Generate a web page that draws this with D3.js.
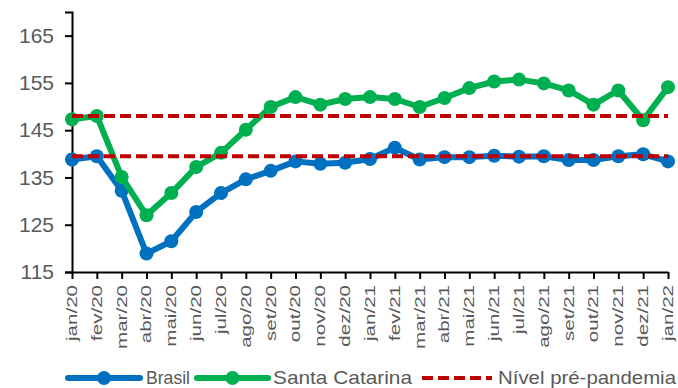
<!DOCTYPE html>
<html>
<head>
<meta charset="utf-8">
<script src="https://cdn.jsdelivr.net/npm/d3@7"></script>
<style>
  html, body { margin: 0; padding: 0; background: #fff; }
  svg { display: block; font-family: "Liberation Sans", Arial, sans-serif; }
</style>
</head>
<body>
<svg id="chart" width="678" height="388"></svg>
<script>
// Monthly index, jan/20 – jan/22
const months = ["jan/20","fev/20","mar/20","abr/20","mai/20","jun/20","jul/20","ago/20","set/20","out/20","nov/20","dez/20",
                "jan/21","fev/21","mar/21","abr/21","mai/21","jun/21","jul/21","ago/21","set/21","out/21","nov/21","dez/21","jan/22"];
const brasil = [138.8,139.5,132.2,118.9,121.5,127.7,131.7,134.6,136.4,138.4,137.9,138.1,
                138.9,141.3,138.8,139.3,139.3,139.6,139.4,139.5,138.7,138.7,139.5,139.9,138.4];
const santaCatarina = [147.3,148.0,135.1,127.0,131.7,137.2,140.2,145.1,149.9,152.0,150.4,151.6,
                       152.0,151.6,149.9,151.8,153.9,155.3,155.7,154.9,153.4,150.4,153.4,147.1,154.1];
// Pre-pandemic reference levels (Santa Catarina, Brasil)
const preLevels = [148.0, 139.5];
const yTicks = [115, 125, 135, 145, 155, 165];
const yDomain = [115, 170];
const legendLabels = ["Brasil", "Santa Catarina", "Nível pré-pandemia"];

const BLUE = "#0070C0", GREEN = "#00B050", RED = "#C00000", TEXT = "#595959";

const svg = d3.select("#chart");
const plotLeft = 72, plotRight = 668, plotTop = 12, plotBottom = 272;

const x = d3.scalePoint().domain(months).range([plotLeft, plotRight]);
const y = d3.scaleLinear().domain(yDomain).range([plotBottom, plotTop]);

// Y axis
const yAxis = svg.append("g").attr("transform", `translate(${plotLeft},0)`)
  .call(d3.axisLeft(y).tickValues(yTicks).tickSize(7).tickPadding(11).tickFormat(d3.format("d")));
yAxis.select(".domain").attr("stroke", "#000").attr("stroke-width", 2);
yAxis.selectAll(".tick line").attr("stroke", "#000").attr("stroke-width", 2);
yAxis.selectAll(".tick text").attr("fill", TEXT).style("font-size", "21px")
  .style("font-family", "'Liberation Sans', Arial, sans-serif");

// X axis
const xAxis = svg.append("g").attr("transform", `translate(0,${plotBottom})`)
  .call(d3.axisBottom(x).tickSize(7).tickSizeOuter(0));
xAxis.select(".domain").attr("stroke", "#000").attr("stroke-width", 2);
xAxis.selectAll(".tick line").attr("stroke", "#000").attr("stroke-width", 2);
xAxis.selectAll(".tick text").remove();
xAxis.selectAll(".tick").append("text")
  .attr("fill", TEXT)
  .attr("text-anchor", "end")
  .attr("dy", "0.36em")
  .attr("transform", "translate(-1,13) rotate(-90) scale(1.37,1)")
  .style("font-size", "15px")
  .style("font-family", "'Liberation Sans', Arial, sans-serif")
  .text(d => d);

const line = d3.line().x((d, i) => x(months[i])).y(d => y(d));

function drawSeries(values, color) {
  const g = svg.append("g");
  g.append("path").datum(values).attr("d", line)
    .attr("fill", "none").attr("stroke", color).attr("stroke-width", 6)
    .attr("stroke-linejoin", "round");
  g.selectAll("circle").data(values).join("circle")
    .attr("cx", (d, i) => x(months[i])).attr("cy", d => y(d)).attr("r", 7)
    .attr("fill", color);
}
drawSeries(brasil, BLUE);
drawSeries(santaCatarina, GREEN);

// Pre-pandemic dashed reference lines
svg.append("g").selectAll("line").data(preLevels).join("line")
  .attr("x1", plotLeft).attr("x2", plotRight)
  .attr("y1", d => y(d)).attr("y2", d => y(d))
  .attr("stroke", RED).attr("stroke-width", 4).attr("stroke-dasharray", "11,5");

// Legend
const ly = 378;
const legend = svg.append("g");
const items = [
  { label: legendLabels[0], color: BLUE, x0: 68, x1: 140, text: 146, width: 44, marker: true },
  { label: legendLabels[1], color: GREEN, x0: 197, x1: 268, text: 273, width: 139, marker: true },
  { label: legendLabels[2], color: RED, x0: 422, x1: 492, text: 498, width: 178, marker: false }
];
items.forEach(it => {
  const l = legend.append("line").attr("x1", it.x0).attr("x2", it.x1).attr("y1", ly).attr("y2", ly)
    .attr("stroke", it.color);
  if (it.marker) {
    l.attr("stroke-width", 6).attr("stroke-linecap", "round");
    legend.append("circle").attr("cx", (it.x0 + it.x1) / 2).attr("cy", ly).attr("r", 7).attr("fill", it.color);
  } else {
    l.attr("stroke-width", 4).attr("stroke-dasharray", "11,5");
  }
  legend.append("text").attr("x", it.text).attr("y", ly + 6).attr("fill", TEXT)
    .attr("textLength", it.width).attr("lengthAdjust", "spacingAndGlyphs")
    .style("font-size", "19px").text(it.label);
});
</script>
</body>
</html>
